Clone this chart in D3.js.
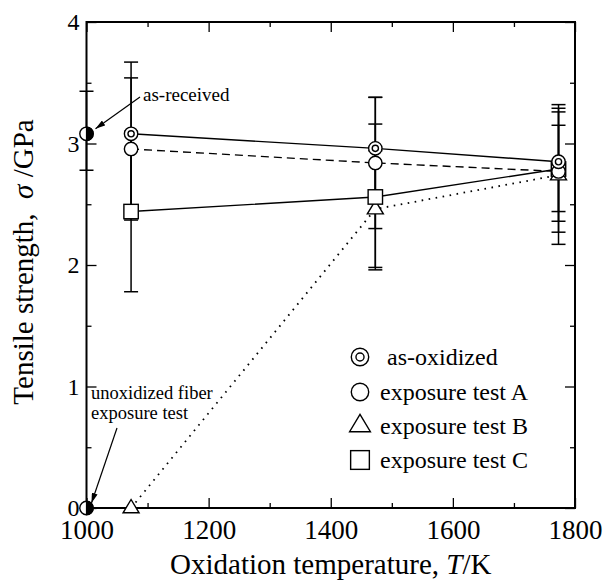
<!DOCTYPE html>
<html>
<head>
<meta charset="utf-8">
<script src="https://cdn.jsdelivr.net/npm/d3@7/dist/d3.min.js"></script>
<style>
  html, body { margin: 0; padding: 0; background: #fff; }
  svg { display: block; }
  text { font-family: "Liberation Serif", "Times New Roman", serif; fill: #000; }
</style>
</head>
<body>
<svg id="chart" width="606" height="581"></svg>
<script>
// Oxidation temperatures (K) of the tested fibers
const temps = [1073, 1473, 1773];

// Tensile strength (GPa) with lower / upper error-bar ends
const asOxidized   = [3.08, 2.96, 2.85];
const asOxidizedLo = [2.49, 2.54, 2.36];
const asOxidizedHi = [3.67, 3.38, 3.32];

const testA   = [2.955, 2.84, 2.77];
const testALo = [2.37, 2.30, 2.27];
const testAHi = [3.54, 3.38, 3.29];

const testB   = [0, 2.46, 2.74];
const testBLo = [null, 1.98, 2.17];
const testBHi = [null, 2.94, 3.15];

const testC   = [2.44, 2.56, 2.79];
const testCLo = [1.78, 1.96, 2.44];
const testCHi = [3.10, 3.16, 3.26];

// Reference fibers plotted at the axis origin temperature
const asReceivedT  = [1000];
const asReceived   = [3.08];
const asReceivedLo = [2.78];
const asReceivedHi = [3.43];
const unoxidizedT  = [1000];
const unoxidized   = [0];

// Axis ticks
const xMajorTicks = [1000, 1200, 1400, 1600, 1800];
const xMinorTicks = [1100, 1300, 1500, 1700];
const yMajorTicks = [0, 1, 2, 3, 4];
const yMinorTicks = [0.5, 1.5, 2.5, 3.5];

const legendLabels = ["as-oxidized", "exposure test A", "exposure test B", "exposure test C"];

const svg = d3.select("#chart");
const plotLeft = 86.5, plotRight = 575, plotTop = 22, plotBottom = 508;
const x = d3.scaleLinear().domain([1000, 1800]).range([plotLeft, plotRight]);
const y = d3.scaleLinear().domain([0, 4]).range([plotBottom, plotTop]);

// ---- axes (ticks point inward on all four sides) ----
function styleAxis(g) {
  g.select(".domain").remove();
  g.selectAll(".tick line").attr("stroke", "#000").attr("stroke-width", 1.3);
}
svg.append("g").attr("transform", `translate(0,${plotBottom})`)
  .call(d3.axisBottom(x).tickValues(xMajorTicks).tickSize(-10).tickPadding(12).tickFormat(d3.format("d")))
  .call(styleAxis)
  .call(g => g.selectAll("text").attr("font-size", 27).attr("font-family", "Liberation Serif, serif"));
svg.append("g").attr("transform", `translate(0,${plotBottom})`)
  .call(d3.axisBottom(x).tickValues(xMinorTicks).tickSize(-5).tickFormat(""))
  .call(styleAxis);
svg.append("g").attr("transform", `translate(0,${plotTop})`)
  .call(d3.axisTop(x).tickValues(xMajorTicks).tickSize(-10).tickFormat(""))
  .call(styleAxis);
svg.append("g").attr("transform", `translate(0,${plotTop})`)
  .call(d3.axisTop(x).tickValues(xMinorTicks).tickSize(-5).tickFormat(""))
  .call(styleAxis);
svg.append("g").attr("transform", `translate(${plotLeft},0)`)
  .call(d3.axisLeft(y).tickValues(yMajorTicks).tickSize(-10).tickPadding(7).tickFormat(d3.format("d")))
  .call(styleAxis)
  .call(g => g.selectAll("text").attr("font-size", 24).attr("font-family", "Liberation Serif, serif"));
svg.append("g").attr("transform", `translate(${plotLeft},0)`)
  .call(d3.axisLeft(y).tickValues(yMinorTicks).tickSize(-5).tickFormat(""))
  .call(styleAxis);
svg.append("g").attr("transform", `translate(${plotRight},0)`)
  .call(d3.axisRight(y).tickValues(yMajorTicks).tickSize(-10).tickFormat(""))
  .call(styleAxis);
svg.append("g").attr("transform", `translate(${plotRight},0)`)
  .call(d3.axisRight(y).tickValues(yMinorTicks).tickSize(-5).tickFormat(""))
  .call(styleAxis);

// plot frame
svg.append("rect")
  .attr("x", plotLeft).attr("y", plotTop)
  .attr("width", plotRight - plotLeft).attr("height", plotBottom - plotTop)
  .attr("fill", "none").attr("stroke", "#000").attr("stroke-width", 2);

// ---- axis titles ----
const xt = svg.append("text").attr("x", (plotLeft + plotRight) / 2).attr("y", 574)
  .attr("text-anchor", "middle").attr("font-size", 29);
xt.append("tspan").text("Oxidation temperature, ");
xt.append("tspan").attr("font-style", "italic").text("T");
xt.append("tspan").text("/K");

const yt = svg.append("text")
  .attr("transform", `translate(33,${(117 + 407) / 2}) rotate(-90)`)
  .attr("text-anchor", "middle").attr("font-size", 29)
  .attr("xml:space", "preserve");
yt.append("tspan").text("Tensile strength,  ");
yt.append("tspan").attr("font-style", "italic").text("σ");
yt.append("tspan").text(" /GPa");

// ---- series ----
const series = [
  { name: "asOx",  v: asOxidized, lo: asOxidizedLo, hi: asOxidizedHi, dash: null,  marker: "double" },
  { name: "A",     v: testA,      lo: testALo,      hi: testAHi,      dash: "8,5", marker: "circle" },
  { name: "B",     v: testB,      lo: testBLo,      hi: testBHi,      dash: "1.6,5.5", marker: "triangle" },
  { name: "C",     v: testC,      lo: testCLo,      hi: testCHi,      dash: null,  marker: "square" }
];

const line = d3.line().x(d => x(d.t)).y(d => y(d.v));
series.forEach(s => {
  const pts = temps.map((t, i) => ({ t, v: s.v[i] }));
  svg.append("path").datum(pts)
    .attr("d", line).attr("fill", "none").attr("stroke", "#000")
    .attr("stroke-width", s.name === "B" ? 1.8 : 1.4)
    .attr("stroke-dasharray", s.dash);
});

// error bars
const capHalf = 7;
function errorBar(t, lo, hi) {
  if (lo == null || hi == null) return;
  const g = svg.append("g").attr("stroke", "#000").attr("stroke-width", 1.5);
  g.append("line").attr("x1", x(t)).attr("x2", x(t)).attr("y1", y(lo)).attr("y2", y(hi));
  g.append("line").attr("x1", x(t) - capHalf).attr("x2", x(t) + capHalf).attr("y1", y(lo)).attr("y2", y(lo));
  g.append("line").attr("x1", x(t) - capHalf).attr("x2", x(t) + capHalf).attr("y1", y(hi)).attr("y2", y(hi));
}
series.forEach(s => temps.forEach((t, i) => errorBar(t, s.lo[i], s.hi[i])));
asReceivedT.forEach((t, i) => errorBar(t, asReceivedLo[i], asReceivedHi[i]));

// markers
function drawMarker(g, type, cx, cy, k) {
  const sw = 1.4;
  if (type === "double") {
    g.append("circle").attr("cx", cx).attr("cy", cy).attr("r", 6.7 * k).attr("fill", "#fff").attr("stroke", "#000").attr("stroke-width", sw);
    g.append("circle").attr("cx", cx).attr("cy", cy).attr("r", 3.1 * k).attr("fill", "#fff").attr("stroke", "#000").attr("stroke-width", sw);
  } else if (type === "circle") {
    g.append("circle").attr("cx", cx).attr("cy", cy).attr("r", 6.7 * k).attr("fill", "#fff").attr("stroke", "#000").attr("stroke-width", sw);
  } else if (type === "triangle") {
    const hw = 8 * k, up = 8.5 * k, dn = 4.8 * k;
    g.append("path").attr("d", `M${cx},${cy - up}L${cx + hw},${cy + dn}L${cx - hw},${cy + dn}Z`)
      .attr("fill", "#fff").attr("stroke", "#000").attr("stroke-width", sw);
  } else if (type === "square") {
    const h = 7.2 * k;
    g.append("rect").attr("x", cx - h).attr("y", cy - h).attr("width", 2 * h).attr("height", 2 * h)
      .attr("fill", "#fff").attr("stroke", "#000").attr("stroke-width", sw);
  }
}
const markerLayer = svg.append("g");
// draw bottom series first so the as-oxidized marker stays on top
[series[2], series[3], series[1], series[0]].forEach(s => {
  temps.forEach((t, i) => drawMarker(markerLayer, s.marker, x(t), y(s.v[i]), 1));
});

// half-filled markers for the reference fibers
function halfFilled(cx, cy) {
  const r = 6.7;
  markerLayer.append("circle").attr("cx", cx).attr("cy", cy).attr("r", r)
    .attr("fill", "#fff").attr("stroke", "#000").attr("stroke-width", 1.4);
  markerLayer.append("path")
    .attr("d", `M${cx},${cy - r}A${r},${r} 0 0 1 ${cx},${cy + r}Z`)
    .attr("fill", "#000").attr("stroke", "#000").attr("stroke-width", 1.2);
}
asReceivedT.forEach((t, i) => halfFilled(x(t), y(asReceived[i])));
unoxidizedT.forEach((t, i) => halfFilled(x(t), y(unoxidized[i])));

// ---- annotations with arrows ----
const defs = svg.append("defs");
defs.append("marker").attr("id", "arrowhead")
  .attr("viewBox", "0 0 10 6").attr("refX", 10).attr("refY", 3)
  .attr("markerWidth", 10).attr("markerHeight", 6).attr("markerUnits", "userSpaceOnUse")
  .attr("orient", "auto")
  .append("path").attr("d", "M0,0L10,3L0,6Z").attr("fill", "#000");

svg.append("text").attr("x", 143).attr("y", 101).attr("font-size", 19).text("as-received");
svg.append("line")
  .attr("x1", 140).attr("y1", 97)
  .attr("x2", x(asReceivedT[0]) + 9).attr("y2", y(asReceived[0]) - 5)
  .attr("stroke", "#000").attr("stroke-width", 1.2).attr("marker-end", "url(#arrowhead)");

const unox = svg.append("text").attr("font-size", 18.5);
unox.append("tspan").attr("x", 91).attr("y", 399).text("unoxidized fiber");
unox.append("tspan").attr("x", 91).attr("y", 419).text("exposure test");
svg.append("line")
  .attr("x1", 117).attr("y1", 428)
  .attr("x2", x(unoxidizedT[0]) + 5).attr("y2", y(unoxidized[0]) - 5)
  .attr("stroke", "#000").attr("stroke-width", 1.2).attr("marker-end", "url(#arrowhead)");

// ---- legend ----
const legendTypes = ["double", "circle", "triangle", "square"];
const legendRows = [365, 400, 433.5, 468];
const legend = svg.append("g");
legendLabels.forEach((lab, i) => {
  drawMarker(legend, legendTypes[i], 360, legendRows[i] - 8, 1.3);
  legend.append("text").attr("x", i === 0 ? 387 : 380).attr("y", legendRows[i])
    .attr("font-size", 24).text(lab);
});
</script>
</body>
</html>
